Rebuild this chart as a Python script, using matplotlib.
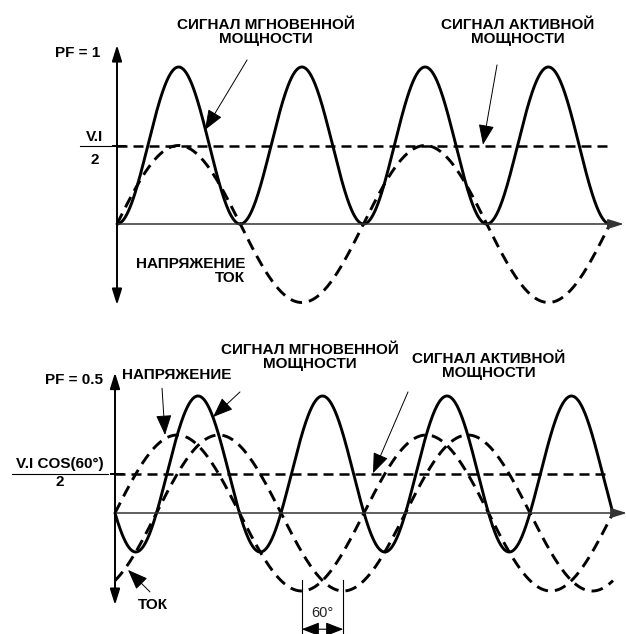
import numpy as np
import matplotlib
matplotlib.use("Agg")
import matplotlib.pyplot as plt

plt.rcParams['font.family'] = ['Liberation Sans', 'DejaVu Sans']

# данные диаграммы
pf_labels = ["PF = 1", "PF = 0.5"]
phase_lag_deg = [0, 60]          # сдвиг тока относительно напряжения
span_deg = [720, 720]            # два периода напряжения
vi_amplitude = 1.0               # V*I, пик мгновенной мощности
wave_amplitude = 0.5             # масштаб рисования V и I
mean_labels = [("V.I", "2"), ("V.I COS(60°)", "2")]
power_label = "СИГНАЛ МГНОВЕННОЙ\nМОЩНОСТИ"
active_label = "СИГНАЛ АКТИВНОЙ\nМОЩНОСТИ"

# пиксели -> градусы/единицы для каждой панели
k1, u1 = 493 / 720, 157.0
k2, u2 = 498 / 720, 156.0

fig = plt.figure(figsize=(6.26, 6.34), dpi=100)
ax1 = fig.add_axes([0, 314 / 634, 1, 320 / 634])
ax2 = fig.add_axes([0, 0, 1, 314 / 634])
ax1.set_xlim(-117 / k1, (626 - 117) / k1)
ax1.set_ylim(-(320 - 224) / u1, 224 / u1)
ax2.set_xlim(-115 / k2, (626 - 115) / k2)
ax2.set_ylim(-(634 - 513) / u2, (513 - 320) / u2)

FS = 11
LW = 2.1
dash = (4, 2.4)
arr = dict(arrowstyle='-|>,head_length=0.9,head_width=0.35', lw=0.7,
           color='black', shrinkA=0, shrinkB=0, mutation_scale=14)


def draw_panel(ax, lag, span, ybot, ytop):
    th = np.linspace(0, span, 1500)
    v = np.sin(np.radians(th))
    i = np.sin(np.radians(th - lag))
    p = vi_amplitude * v * i
    mean = vi_amplitude * np.cos(np.radians(lag)) / 2

    # оси
    ax.annotate('', xy=(span + 20, 0), xytext=(0, 0), annotation_clip=False,
                arrowprops=dict(arrowstyle='-|>,head_length=0.8,head_width=0.25',
                                lw=1.1, color='#333333', shrinkA=0, shrinkB=0,
                                mutation_scale=12))
    ax.annotate('', xy=(0, ytop), xytext=(0, ybot), annotation_clip=False,
                arrowprops=dict(arrowstyle='<|-|>,head_length=0.8,head_width=0.25',
                                lw=1.4, color='black', shrinkA=0, shrinkB=0,
                                mutation_scale=12))
    ax.plot([-6, 12], [mean, mean], color='black', lw=1.4)

    ax.plot(th, p, color='black', lw=LW, solid_capstyle='round')
    ax.plot(th, wave_amplitude * v, color='black', lw=LW, dashes=dash)
    if lag:
        ax.plot(th, wave_amplitude * i, color='black', lw=LW, dashes=dash)
    ax.plot([0, span - 4], [mean, mean], color='black', lw=1.8, dashes=dash)
    ax.axis('off')
    return mean


m1 = draw_panel(ax1, phase_lag_deg[0], span_deg[0], -0.516, 1.14)
m2 = draw_panel(ax2, phase_lag_deg[1], span_deg[1], -0.59, 0.90)

# верхняя панель: подписи
ax1.text(-24.8, 1.089, pf_labels[0], ha='right', va='center', fontsize=FS, fontweight='bold')
ax1.text(-33, 0.555, mean_labels[0][0], ha='center', va='center', fontsize=FS, fontweight='bold')
ax1.text(-32, 0.41, mean_labels[0][1], ha='center', va='center', fontsize=FS, fontweight='bold')
ax1.plot([(80 - 117) / k1, (111 - 117) / k1], [m1, m1], color='black', lw=0.8)
ax1.text(217, 1.225, power_label, ha='center', va='center', fontsize=FS,
         fontweight='bold', linespacing=1.0)
ax1.annotate('', xy=(128.5, 0.599), xytext=(190, 1.045), arrowprops=arr)
ax1.text(585.7, 1.225, active_label, ha='center', va='center', fontsize=FS,
         fontweight='bold', linespacing=1.0)
ax1.annotate('', xy=(534.5, m1 + 0.005), xytext=(555, 1.013), arrowprops=arr)
ax1.text(187, -0.30, "НАПРЯЖЕНИЕ\nТОК", ha='right', va='center', fontsize=FS,
         fontweight='bold', linespacing=1.05)

# нижняя панель: подписи
ax2.text(-17.3, 0.853, pf_labels[1], ha='right', va='center', fontsize=FS, fontweight='bold')
ax2.text(10, 0.885, "НАПРЯЖЕНИЕ", ha='left', va='center', fontsize=FS, fontweight='bold')
ax2.annotate('', xy=(72.3, 0.5), xytext=(68, 0.80), arrowprops=arr)
ax2.text(281.9, 1.0, power_label, ha='center', va='center', fontsize=FS,
         fontweight='bold', linespacing=1.0)
ax2.annotate('', xy=(141.7, 0.615), xytext=(180.7, 0.776), arrowprops=arr)
ax2.text(540.7, 0.94, active_label, ha='center', va='center', fontsize=FS,
         fontweight='bold', linespacing=1.0)
ax2.annotate('', xy=(373, m2 + 0.005), xytext=(423.6, 0.776), arrowprops=arr)
ax2.text((60 - 115) / k2, 0.316, mean_labels[1][0], ha='center', va='center',
         fontsize=FS, fontweight='bold')
ax2.text((60 - 115) / k2, 0.20, mean_labels[1][1], ha='center', va='center',
         fontsize=FS, fontweight='bold')
ax2.plot([(12 - 115) / k2, (108 - 115) / k2], [m2, m2], color='black', lw=0.8)
ax2.text(54.9, -0.59, "ТОК", ha='center', va='center', fontsize=FS, fontweight='bold')
ax2.annotate('', xy=(18.8, -0.365), xytext=(50.6, -0.506), arrowprops=arr)

# метка 60°
x_v = 270
x_i = 270 + phase_lag_deg[1]
for xx in (x_v, x_i):
    ax2.plot([xx, xx], [-0.43, -0.776], color='black', lw=0.8)
ax2.annotate('', xy=(x_i, -0.745), xytext=(x_v, -0.745),
             arrowprops=dict(arrowstyle='<|-|>,head_length=0.9,head_width=0.35',
                             lw=0.8, color='black', shrinkA=0, shrinkB=0,
                             mutation_scale=12))
ax2.text((x_v + x_i) / 2, -0.64, "60°", ha='center', va='center', fontsize=10.5,
         color='#222222')

fig.savefig("out.png", dpi=100)
